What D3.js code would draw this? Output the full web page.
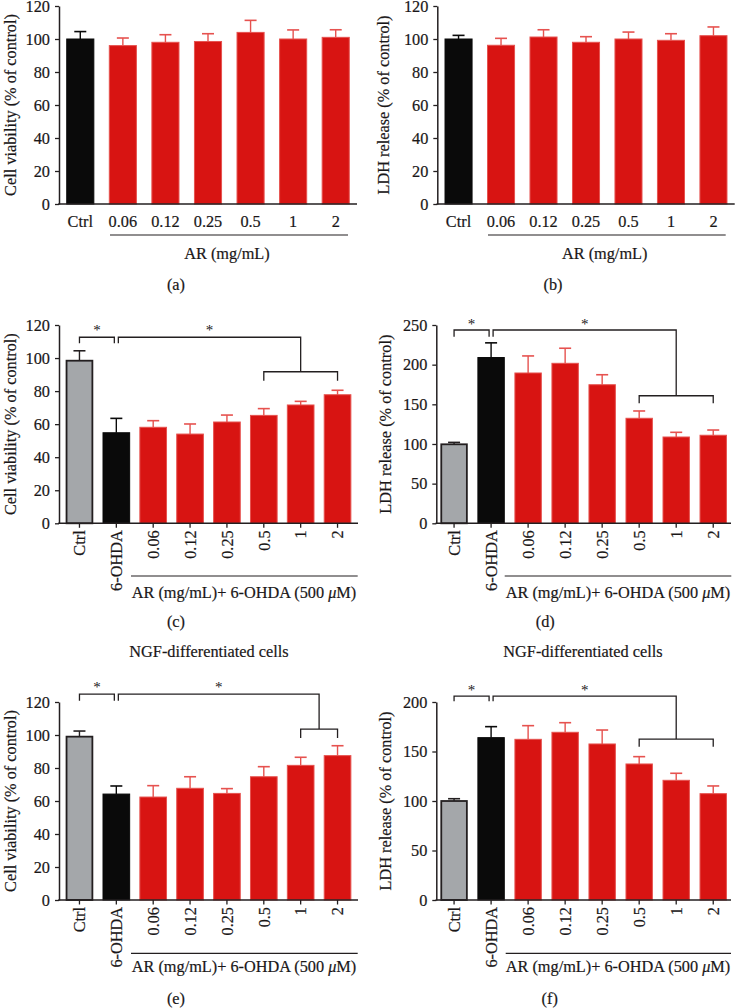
<!DOCTYPE html>
<html><head><meta charset="utf-8">
<script src="https://cdn.jsdelivr.net/npm/d3@7"></script>
<style>
body{margin:0;background:#fff}
svg{display:block}
text{font-family:"Liberation Serif","Times New Roman",serif;fill:#1a1718;stroke:#1a1718;stroke-width:0.2px}
</style>
</head><body>
<svg id="chart" width="735" height="1008"></svg>
<script>
// ---------- data ----------
const catsAB = ["Ctrl","0.06","0.12","0.25","0.5","1","2"];
const catsCF = ["Ctrl","6-OHDA","0.06","0.12","0.25","0.5","1","2"];

const valA = [100, 96, 98, 98.5, 104, 100, 101];
const errA = [4.5, 4.6, 4.6, 4.7, 7.3, 5.5, 4.6];
const valB = [100, 96.2, 101.2, 98, 100, 99.2, 102];
const errB = [2.2, 4.2, 4.4, 3.4, 4.2, 4.0, 5.3];
const valC = [98.4, 54.8, 58.1, 54, 61.3, 65.3, 71.6, 77.8];
const errC = [6.0, 8.7, 4.0, 6.1, 4.2, 4.1, 2.2, 2.7];
const valD = [99.6, 209, 189.5, 201.7, 174.7, 132.4, 108.8, 111];
const errD = [2.4, 18.5, 21.5, 19, 12.6, 9.2, 5.9, 6.6];
const valE = [99, 64.2, 62.4, 67.7, 64.6, 74.7, 81.6, 87.5];
const errE = [3.4, 4.9, 6.9, 7.0, 2.9, 6.1, 4.9, 6.0];
const valF = [100, 164, 162.3, 169.4, 157.6, 137.4, 120.9, 107.4];
const errF = [2.3, 11.1, 13.8, 9.7, 14.1, 7.4, 7.1, 7.8];

const ticks120 = [0, 20, 40, 60, 80, 100, 120];
const ticks250 = [0, 50, 100, 150, 200, 250];
const ticks200 = [0, 50, 100, 150, 200];

const yLabViab = "Cell viability (% of control)";
const yLabLDH = "LDH release (% of control)";
const subAB = "AR (mg/mL)";
const titleNGF = "NGF-differentiated cells";

// significance brackets (heights in data units)
const sigC = {pair:["Ctrl","6-OHDA"], group:["0.5","2"], top:112.6, leg:108.9, low:91.7, lowLeg:86.3, star:119};
const sigD = {pair:["Ctrl","6-OHDA"], group:["0.5","2"], top:243.7, leg:235.2, low:160.8, lowLeg:151.3, star:255};
const sigE = {pair:["Ctrl","6-OHDA"], group:["1","2"], top:124.8, leg:120.8, low:103.6, lowLeg:98.2, star:130.9};
const sigF = {pair:["Ctrl","6-OHDA"], group:["0.5","2"], top:206, leg:200.7, low:162.6, lowLeg:154.8, star:215.5};

// ---------- styles ----------
const FS = 16.3;
const RED = "#d81412", RED_EDGE = "#e6524f", GRAY = "#a4a7aa", INK = "#231f20";
function barStyle(cat, panelType){
  if (cat === "Ctrl") return panelType === "ab" ? {fill:"#0a0a0a", stroke:"#0a0a0a", sw:1, err:"#0a0a0a"} : {fill:GRAY, stroke:INK, sw:1.8, err:INK};
  if (cat === "6-OHDA") return {fill:"#0a0a0a", stroke:"#0a0a0a", sw:1, err:"#0a0a0a"};
  return {fill:RED, stroke:RED_EDGE, sw:1, err:RED_EDGE};
}

// ---------- panels (layout) ----------
const panels = [
  {type:"ab", cats:catsAB, vals:valA, errs:errA, max:120, ticks:ticks120, ylab:yLabViab,
   ax:59, axEnd:357, y0:204, y1:6, pi:0.34, po:0.17, ylx:10,
   line:[110,348,235], sub:subAB, subX:227, subY:259, letter:"(a)", letX:176, letY:290},
  {type:"ab", cats:catsAB, vals:valB, errs:errB, max:120, ticks:ticks120, ylab:yLabLDH,
   ax:437.3, axEnd:734.7, y0:204, y1:6, pi:0.34, po:0.17, ylx:383,
   line:[488,725.7,235], sub:subAB, subX:604.7, subY:259, letter:"(b)", letX:553, letY:290},
  {type:"cf", cats:catsCF, vals:valC, errs:errC, max:120, ticks:ticks120, ylab:yLabViab,
   ax:59, axEnd:358, y0:523.3, y1:325, pi:0.25, po:0.18, ylx:10,
   line:[131,357.7,576], subX:244, subY:598, letter:"(c)", letX:176, letY:627, sig:sigC},
  {type:"cf", cats:catsCF, vals:valD, errs:errD, max:250, ticks:ticks250, ylab:yLabLDH,
   ax:436.3, axEnd:731, y0:523.3, y1:325, pi:0.26, po:0.11, ylx:385,
   line:[504.7,731.3,576], subX:618, subY:598, letter:"(d)", letX:545.3, letY:627, sig:sigD},
  {type:"cf", cats:catsCF, vals:valE, errs:errE, max:120, ticks:ticks120, ylab:yLabViab,
   ax:59, axEnd:358, y0:900, y1:702, pi:0.25, po:0.18, ylx:10,
   line:[131,357.7,953.3], subX:244, subY:972, letter:"(e)", letX:176, letY:1004, sig:sigE,
   title:titleNGF, titleX:209, titleY:657},
  {type:"cf", cats:catsCF, vals:valF, errs:errF, max:200, ticks:ticks200, ylab:yLabLDH,
   ax:436.3, axEnd:731, y0:900, y1:702, pi:0.26, po:0.11, ylx:385,
   line:[505.7,731,953.3], subX:618, subY:972, letter:"(f)", letX:549.7, letY:1004, sig:sigF,
   title:titleNGF, titleX:583, titleY:657}
];

const svg = d3.select("#chart");

panels.forEach(p => {
  const g = svg.append("g");
  const y = d3.scaleLinear().domain([0, p.max]).range([p.y0, p.y1]);
  const x = d3.scaleBand().domain(p.cats).range([p.ax, p.axEnd]).paddingInner(p.pi).paddingOuter(p.po);
  const cx = c => x(c) + x.bandwidth()/2;
  const rows = p.cats.map((c,i) => ({cat:c, v:p.vals[i], e:p.errs[i], s:barStyle(c,p.type)}));

  // error bars (behind bars)
  const eg = g.append("g");
  rows.forEach(r => {
    const xc = cx(r.cat);
    eg.append("line").attr("x1",xc).attr("x2",xc).attr("y1",y(r.v)).attr("y2",y(r.v+r.e))
      .attr("stroke",r.s.err).attr("stroke-width",1.4);
    eg.append("line").attr("x1",xc-6).attr("x2",xc+6).attr("y1",y(r.v+r.e)).attr("y2",y(r.v+r.e))
      .attr("stroke",r.s.err).attr("stroke-width",1.6);
  });

  // bars
  g.append("g").selectAll("rect").data(rows).join("rect")
    .attr("x", d => x(d.cat) + d.s.sw/2)
    .attr("width", d => x.bandwidth() - d.s.sw)
    .attr("y", d => y(d.v))
    .attr("height", d => y(0) - y(d.v))
    .attr("fill", d => d.s.fill)
    .attr("stroke", d => d.s.stroke)
    .attr("stroke-width", d => d.s.sw);

  // y axis
  const yAxis = d3.axisLeft(y).tickValues(p.ticks).tickSize(4).tickSizeOuter(0).tickPadding(5);
  const ya = g.append("g").attr("transform", `translate(${p.ax},0)`).call(yAxis)
    .attr("font-family", null).attr("font-size", null);
  ya.select(".domain").attr("stroke", INK).attr("stroke-width", 1.5);
  ya.selectAll(".tick line").attr("stroke", INK).attr("stroke-width", 1.3);
  ya.selectAll(".tick text").attr("font-size", FS).attr("fill", null);

  // x axis line
  g.append("line").attr("x1", p.ax - 0.75).attr("x2", p.axEnd).attr("y1", p.y0).attr("y2", p.y0)
    .attr("stroke", INK).attr("stroke-width", 1.5);

  // x labels
  if (p.type === "ab") {
    g.append("g").selectAll("text").data(p.cats).join("text")
      .attr("x", d => cx(d)).attr("y", p.y0 + 23).attr("text-anchor","middle")
      .attr("font-size", FS).text(d => d);
  } else {
    g.append("g").selectAll("line").data(p.cats).join("line")
      .attr("x1", d => cx(d)).attr("x2", d => cx(d)).attr("y1", p.y0).attr("y2", p.y0 + 4.5)
      .attr("stroke", INK).attr("stroke-width", 1.3);
    g.append("g").selectAll("text").data(p.cats).join("text")
      .attr("transform", d => `translate(${cx(d)},${p.y0 + 7}) rotate(-90)`)
      .attr("dy","0.35em").attr("text-anchor","end").attr("font-size", FS).text(d => d);
  }

  // group underline + subtitle
  g.append("line").attr("x1", p.line[0]).attr("x2", p.line[1]).attr("y1", p.line[2]).attr("y2", p.line[2])
    .attr("stroke", INK).attr("stroke-width", 1.2);
  const st = g.append("text").attr("x", p.subX).attr("y", p.subY).attr("text-anchor","middle").attr("font-size", FS);
  if (p.type === "ab") st.text(p.sub);
  else {
    st.append("tspan").text("AR (mg/mL)+ 6-OHDA (500 ");
    st.append("tspan").attr("font-style","italic").text("\u03bc");
    st.append("tspan").text("M)");
  }

  // y label
  g.append("text").attr("transform", `translate(${p.ylx},${(p.y0+p.y1)/2}) rotate(-90)`)
    .attr("dy","0.35em").attr("text-anchor","middle").attr("font-size", FS).text(p.ylab);

  // panel letter
  g.append("text").attr("x", p.letX).attr("y", p.letY).attr("text-anchor","middle").attr("font-size", FS).text(p.letter);

  // title
  if (p.title) g.append("text").attr("x", p.titleX).attr("y", p.titleY).attr("text-anchor","middle").attr("font-size", FS).text(p.title);

  // significance brackets
  if (p.sig) {
    const s = p.sig, sg = g.append("g").attr("fill","none").attr("stroke", INK).attr("stroke-width", 1.3);
    const xa = cx(s.pair[0]), xb = cx(s.pair[1]) - 2, xb2 = cx(s.pair[1]) + 2;
    const lg0 = cx(s.group[0]), lg1 = cx(s.group[1]), lm = (lg0 + lg1)/2;
    sg.append("path").attr("d", `M${xa},${y(s.leg)}V${y(s.top)}H${xb}V${y(s.leg)}`);
    sg.append("path").attr("d", `M${xb2},${y(s.leg)}V${y(s.top)}H${lm}V${y(s.low)}`);
    sg.append("path").attr("d", `M${lg0},${y(s.lowLeg)}V${y(s.low)}H${lg1}V${y(s.lowLeg)}`);
    [(xa+xb)/2, (xb2+lm)/2].forEach(sx => {
      g.append("text").attr("x", sx).attr("y", y(s.star) + 8).attr("text-anchor","middle")
        .attr("font-size", 15).style("stroke-width","0").text("*");
    });
  }
});
</script>
</body></html>
